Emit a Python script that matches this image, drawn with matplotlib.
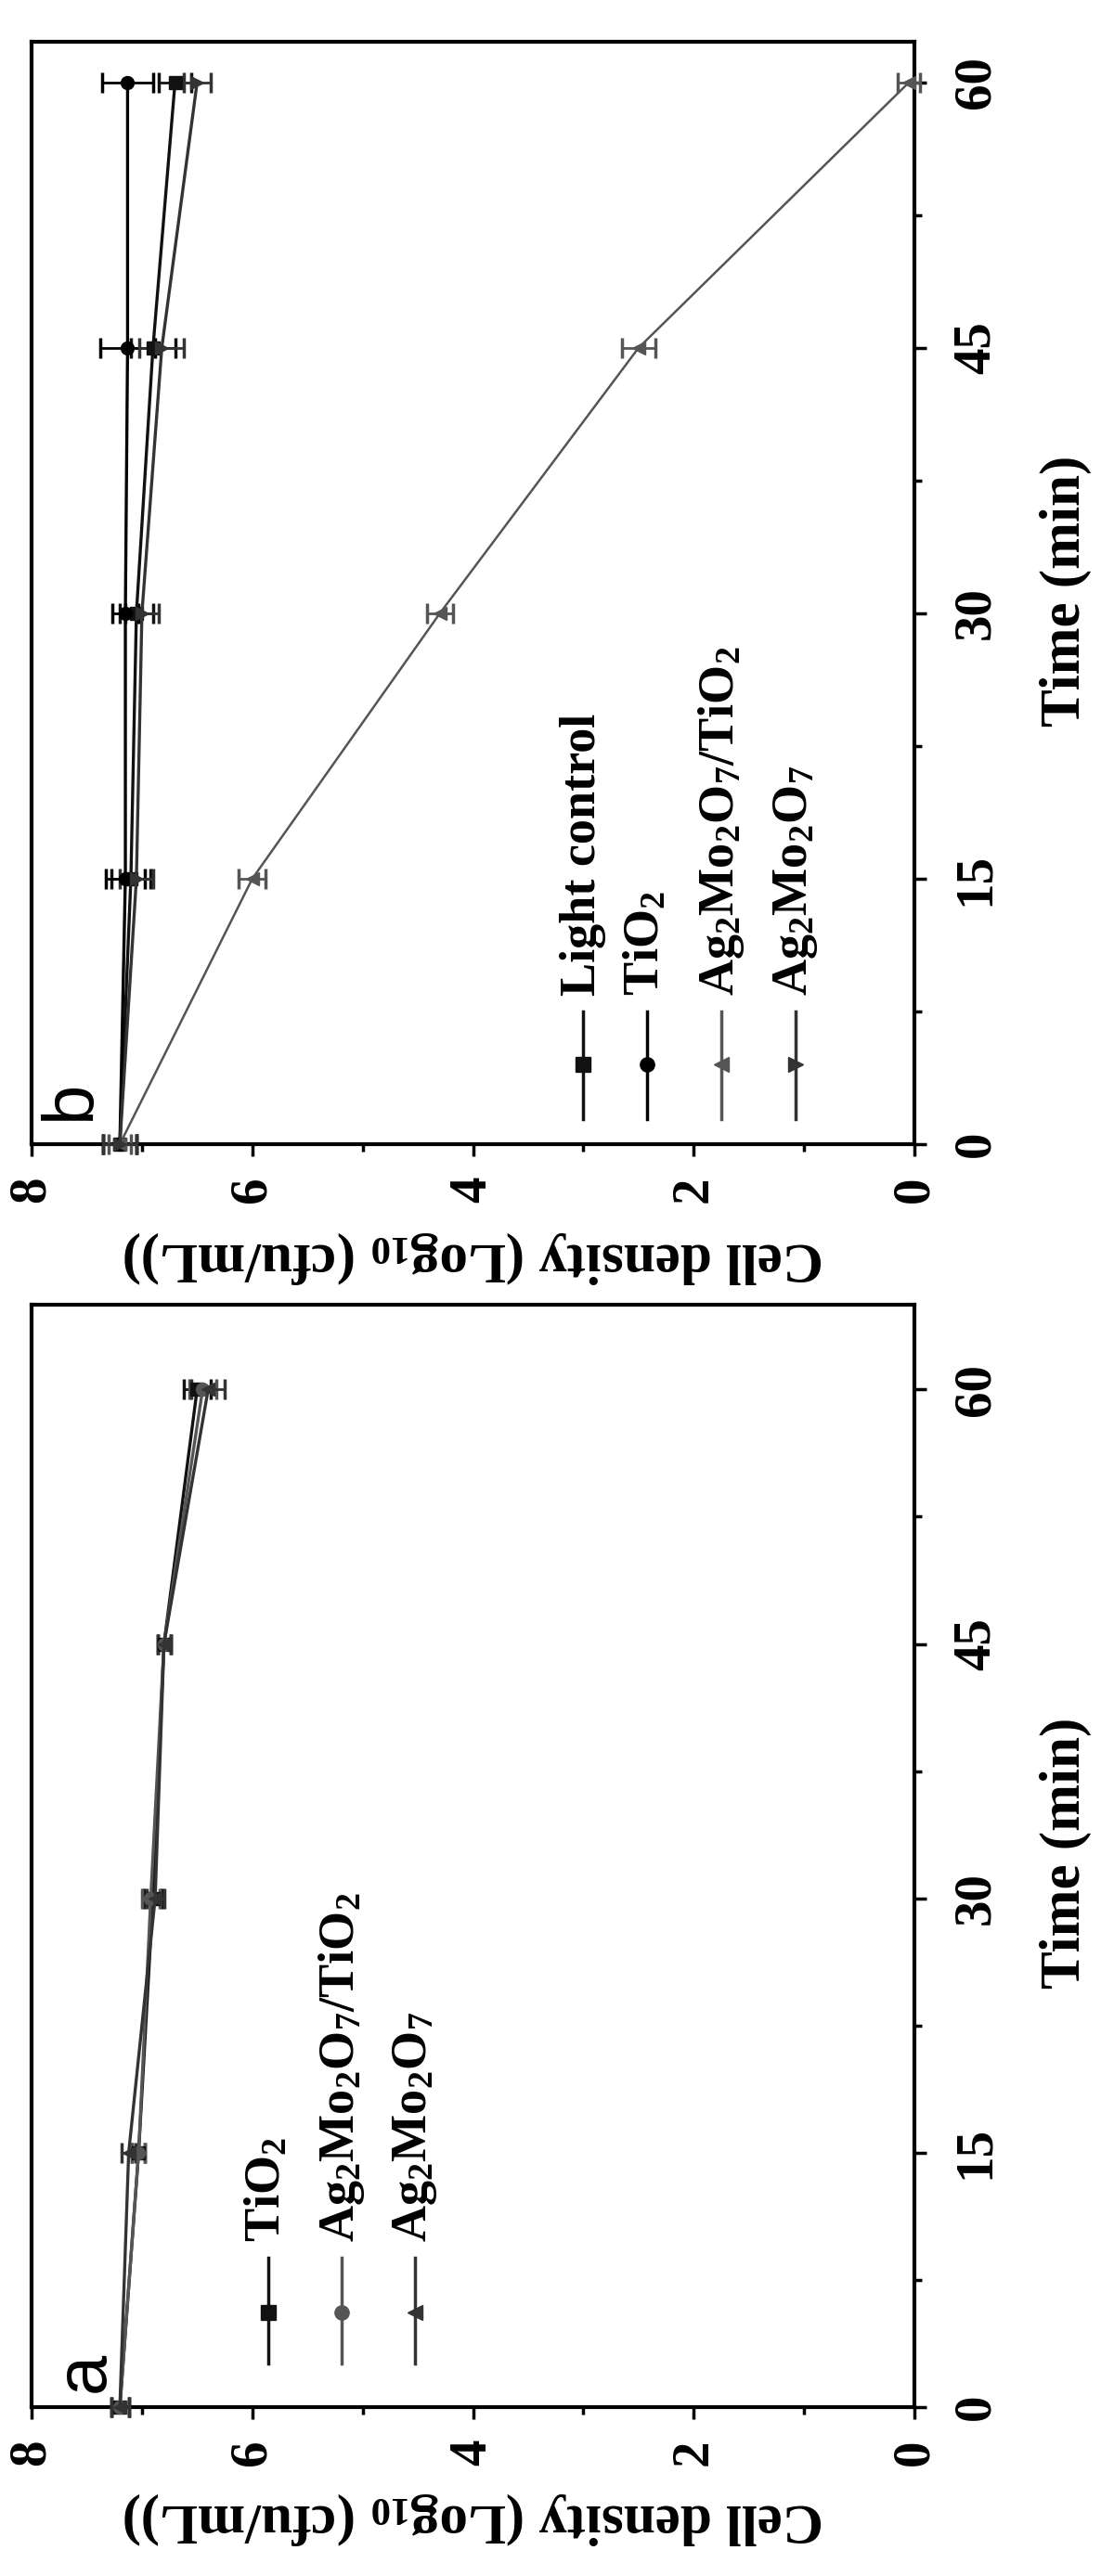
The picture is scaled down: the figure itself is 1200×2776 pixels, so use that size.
import matplotlib
matplotlib.use('Agg')
import matplotlib.pyplot as plt
from matplotlib.ticker import MultipleLocator, FixedLocator

plt.rcParams['font.family'] = ['Liberation Serif', 'DejaVu Serif']
plt.rcParams['font.weight'] = 'bold'
plt.rcParams['mathtext.fontset'] = 'custom'
plt.rcParams['mathtext.rm'] = 'Liberation Serif:bold'
plt.rcParams['mathtext.it'] = 'Liberation Serif:italic:bold'
plt.rcParams['mathtext.bf'] = 'Liberation Serif:bold'
plt.rcParams['mathtext.default'] = 'rm'

# ---------------- data ----------------
time = [0, 15, 30, 45, 60]
time_ticks = [0, 15, 30, 45, 60]
density_ticks = [0, 2, 4, 6, 8]

# panel a (dark)
a_labels = ['TiO$_2$', 'Ag$_2$Mo$_2$O$_7$/TiO$_2$', 'Ag$_2$Mo$_2$O$_7$']
a_tio2 = [7.2, 7.03, 6.90, 6.80, 6.50]
a_tio2_err = [0.08, 0.06, 0.08, 0.06, 0.12]
a_agtio2 = [7.2, 7.03, 6.92, 6.80, 6.45]
a_agtio2_err = [0.08, 0.06, 0.08, 0.06, 0.12]
a_ag = [7.2, 7.12, 6.88, 6.80, 6.40]
a_ag_err = [0.08, 0.06, 0.08, 0.06, 0.15]

# panel b (light)
b_labels = ['Light control', 'TiO$_2$', 'Ag$_2$Mo$_2$O$_7$/TiO$_2$', 'Ag$_2$Mo$_2$O$_7$']
b_light = [7.2, 7.10, 7.05, 6.90, 6.70]
b_light_err = [0.15, 0.18, 0.15, 0.2, 0.15]
b_tio2 = [7.2, 7.15, 7.15, 7.13, 7.13]
b_tio2_err = [0.15, 0.18, 0.12, 0.25, 0.23]
b_agtio2 = [7.2, 6.0, 4.3, 2.5, 0.05]
b_agtio2_err = [0.1, 0.12, 0.12, 0.15, 0.1]
b_ag = [7.2, 7.05, 7.0, 6.82, 6.5]
b_ag_err = [0.15, 0.15, 0.15, 0.2, 0.12]

# ---------------- figure ----------------
W, H = 1200, 2776
fig = plt.figure(figsize=(W / 100, H / 100), dpi=100)


def fx(px):
    return px / W


def fy(py):
    return 1 - py / H


def make_axes(top, bottom):
    return fig.add_axes([fx(34), fy(bottom), (985 - 34) / W, (bottom - top) / H])


axb = make_axes(45, 1233)
axa = make_axes(1406, 2594)

TICK_FS = 41
LEG_FS = 39
LAB_FS = 44


def style_axes(ax, tmax):
    ax.set_xlim(8, 0)
    ax.set_ylim(0, tmax)
    ax.xaxis.set_major_locator(FixedLocator(density_ticks))
    ax.xaxis.set_minor_locator(MultipleLocator(1))
    ax.yaxis.set_major_locator(FixedLocator(time_ticks))
    ax.yaxis.set_minor_locator(MultipleLocator(7.5))
    ax.yaxis.tick_right()
    for s in ax.spines.values():
        s.set_linewidth(3)
    ax.tick_params(axis='x', which='both', direction='out', bottom=True, top=False,
                   labelrotation=90, labelsize=TICK_FS, pad=16)
    ax.tick_params(axis='y', which='both', direction='out', right=True, left=False,
                   labelrotation=90, labelsize=TICK_FS, pad=20)
    ax.tick_params(which='major', length=9, width=2.5)
    ax.tick_params(which='minor', length=6, width=2.5)
    for lbl in ax.get_yticklabels():
        lbl.set_va('center')
    for lbl in ax.get_xticklabels():
        lbl.set_fontweight('bold')


def series(ax, dens, err, color, marker, lw=2.4):
    ax.errorbar(dens, time, xerr=err, color=color, marker=marker, ms=10,
                mfc=color, mec=color, lw=lw, elinewidth=2, capsize=8, capthick=2.5,
                clip_on=False, zorder=3)


def legend(ax, xs, y0, y1, ym, yt, labels, colors, markers):
    for x, lab, c, m in zip(xs, labels, colors, markers):
        ax.plot([x, x], [y0, y1], transform=ax.transAxes, color=c, lw=2.5)
        ax.plot([x], [ym], transform=ax.transAxes, color=c, marker=m, ms=11, mfc=c, mec=c)
        ax.text(x, yt, lab, transform=ax.transAxes, rotation=90, rotation_mode='anchor',
                ha='left', va='center', fontsize=LEG_FS, fontweight='bold')


# ----- panel b -----
style_axes(axb, 62.3)
b_colors = ['#111111', '#000000', '#555555', '#333333']
b_markers = ['s', 'o', '<', '>']
series(axb, b_light, b_light_err, b_colors[0], b_markers[0])
series(axb, b_tio2, b_tio2_err, b_colors[1], b_markers[1])
series(axb, b_agtio2, b_agtio2_err, b_colors[2], b_markers[2], lw=1.8)
series(axb, b_ag, b_ag_err, b_colors[3], b_markers[3])
legend(axb, [0.625, 0.697, 0.781, 0.865], 0.120, 0.023, 0.072, 0.135,
       b_labels, b_colors, b_markers)
axb.text(0.045, 0.04, 'b', transform=axb.transAxes, rotation=90, ha='center', va='center',
         fontsize=56, fontweight='normal', family=['Liberation Sans', 'DejaVu Sans'])

# ----- panel a -----
style_axes(axa, 65)
a_colors = ['#111111', '#555555', '#333333']
a_markers = ['s', 'o', '<']
series(axa, a_tio2, a_tio2_err, a_colors[0], a_markers[0])
series(axa, a_agtio2, a_agtio2_err, a_colors[1], a_markers[1])
series(axa, a_ag, a_ag_err, a_colors[2], a_markers[2])
legend(axa, [0.268, 0.351, 0.434], 0.1355, 0.0396, 0.0859, 0.150,
       a_labels, a_colors, a_markers)
axa.text(0.060, 0.032, 'a', transform=axa.transAxes, rotation=90, ha='center', va='center',
         fontsize=56, fontweight='normal', family=['Liberation Sans', 'DejaVu Sans'])

# ----- axis titles -----
dens_label = 'Cell density (Log$_{10}$ (cfu/mL))'
time_label = 'Time (min)'
for yc in (1355, 2714):
    fig.text(fx(510), fy(yc), dens_label, rotation=180, ha='center', va='center',
             fontsize=LAB_FS, fontweight='bold')
for yc in (637, 1997):
    fig.text(fx(1148), fy(yc), time_label, rotation=90, ha='center', va='center',
             fontsize=LAB_FS, fontweight='bold')

fig.savefig('out.png', dpi=100)
